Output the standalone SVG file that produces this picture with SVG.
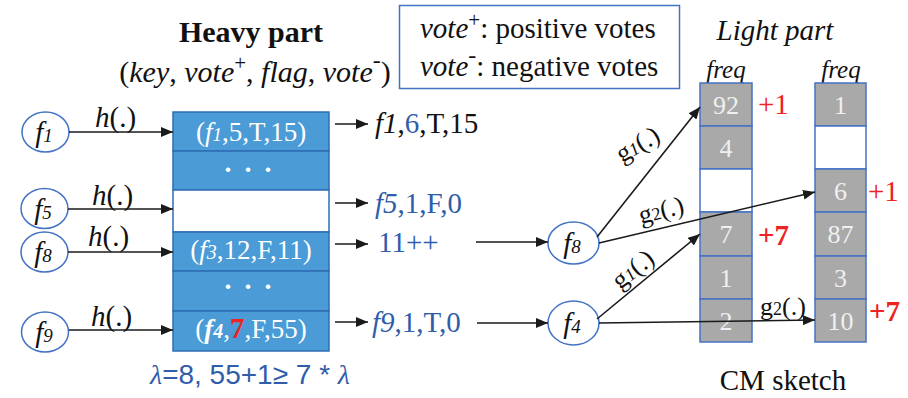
<svg xmlns="http://www.w3.org/2000/svg" width="908" height="398" viewBox="0 0 908 398" font-family="'Liberation Serif', 'Times New Roman', Times, 'DejaVu Serif', 'Noto Serif', serif">
<defs>
<marker id="ah" viewBox="0 0 12 10" refX="12" refY="5" markerWidth="12" markerHeight="10" markerUnits="userSpaceOnUse" orient="auto">
<path d="M0,0 L12,5 L0,10 Z" fill="#1a1a1a"/>
</marker>
<style>
.i{font-style:italic;}
.b{font-weight:bold;}
.blue{fill:#2F5DAA;}
.red{fill:#EE2222;}
.wt{fill:#FFFFFF;}
.ct{fill:#F0F0F0;font-size:26px;}
.ell{fill:#FFFFFF;stroke:#4472C4;stroke-width:1.5;}
.hrow{fill:#4B9BD7;stroke:#2E6DB4;stroke-width:1.5;}
.hwhite{fill:#FFFFFF;stroke:#2E6DB4;stroke-width:1.5;}
.gc{fill:#A9A9A9;stroke:#4472C4;stroke-width:1.5;}
.wc{fill:#FFFFFF;stroke:#4472C4;stroke-width:1.5;}
.con{stroke:#1a1a1a;stroke-width:1.6;fill:none;marker-end:url(#ah);}
.lbl{font-size:29px;fill:#111;}
</style>
</defs>
<rect width="908" height="398" fill="#FFFFFF"/>

<g id="heavy-title">
<text x="251" y="42" text-anchor="middle" class="b" font-size="30" fill="#111">Heavy part</text>
<text x="255" y="82" text-anchor="middle" font-size="30" fill="#111">(<tspan class="i">key</tspan>, <tspan class="i">vote</tspan><tspan font-size="21" dy="-12">+</tspan><tspan dy="12">, </tspan><tspan class="i">flag</tspan>, <tspan class="i">vote</tspan><tspan font-size="24" dy="-14">-</tspan><tspan dy="14">)</tspan></text>
</g>

<g id="legend">
<rect x="399.5" y="5.5" width="280" height="83" fill="#FFFFFF" stroke="#4472C4" stroke-width="1.5"/>
<text x="420" y="38" font-size="29" fill="#111"><tspan class="i">vote</tspan><tspan font-size="21" dy="-11">+</tspan><tspan dy="11">: positive votes</tspan></text>
<text x="420" y="76" font-size="29" fill="#111"><tspan class="i">vote</tspan><tspan font-size="24" dy="-13">-</tspan><tspan dy="13">: negative votes</tspan></text>
</g>

<g id="light-title">
<text x="775" y="40" text-anchor="middle" class="i" font-size="29" fill="#111">Light part</text>
<text x="726" y="78" text-anchor="middle" class="i" font-size="25" fill="#111">freq</text>
<text x="841" y="78" text-anchor="middle" class="i" font-size="25" fill="#111">freq</text>
</g>

<g id="node-f1">
<ellipse class="ell" cx="45.5" cy="132" rx="23.5" ry="20"/>
<text x="44" y="142" text-anchor="middle" class="i" font-size="29" fill="#111">f<tspan font-size="19">1</tspan></text>
</g>
<g id="node-f5">
<ellipse class="ell" cx="44.5" cy="208.5" rx="23.5" ry="20"/>
<text x="43" y="219" text-anchor="middle" class="i" font-size="29" fill="#111">f<tspan font-size="19">5</tspan></text>
</g>
<g id="node-f8">
<ellipse class="ell" cx="44.5" cy="252" rx="23.5" ry="20"/>
<text x="43" y="262" text-anchor="middle" class="i" font-size="29" fill="#111">f<tspan font-size="19">8</tspan></text>
</g>
<g id="node-f9">
<ellipse class="ell" cx="45" cy="332" rx="23.5" ry="20"/>
<text x="44" y="342" text-anchor="middle" class="i" font-size="29" fill="#111">f<tspan font-size="19">9</tspan></text>
</g>

<g id="heavy-table">
<rect class="hrow" x="173" y="112" width="156" height="39"/>
<rect class="hrow" x="173" y="151" width="156" height="39"/>
<rect class="hwhite" x="173" y="190" width="156" height="42"/>
<rect class="hrow" x="173" y="232" width="156" height="39"/>
<rect class="hrow" x="173" y="271" width="156" height="40"/>
<rect class="hrow" x="173" y="311" width="156" height="40"/>
<text x="251" y="141" text-anchor="middle" font-size="27" class="wt">(<tspan class="i">f</tspan><tspan class="i" font-size="19">1</tspan>,5,T,15)</text>
<text x="228 248 268" y="172" text-anchor="middle" font-size="28" class="wt b">...</text>
<text x="251" y="259" text-anchor="middle" font-size="27" class="wt">(<tspan class="i">f</tspan><tspan class="i" font-size="20">3</tspan>,12,F,11)</text>
<text x="228 248 268" y="289" text-anchor="middle" font-size="28" class="wt b">...</text>
<text x="251" y="338" text-anchor="middle" font-size="27" class="wt">(<tspan class="i b">f</tspan><tspan class="i b" font-size="20">4</tspan>,<tspan class="b" fill="#EE2222" font-size="29">7</tspan>,F,55)</text>
<text x="250" y="384" text-anchor="middle" font-family="'Liberation Sans', Arial, sans-serif" font-size="28" class="blue"><tspan font-family="'Liberation Serif', 'DejaVu Serif', serif" class="i">λ</tspan>=8, 55+1≥  7 * <tspan font-family="'Liberation Serif', 'DejaVu Serif', serif" class="i">λ</tspan></text>
</g>

<g id="out-f1"><text x="375" y="133" font-size="29" fill="#111"><tspan class="i">f</tspan><tspan class="i">1</tspan>,<tspan class="blue">6</tspan>,T,15</text></g>
<g id="out-f5"><text x="375" y="213" font-size="29" class="blue"><tspan class="i">f</tspan><tspan class="i">5</tspan>,1,F,0</text></g>
<g id="out-11"><text x="378" y="252" font-size="29" class="blue">11++</text></g>
<g id="out-f9"><text x="372" y="332" font-size="29" class="blue"><tspan class="i">f</tspan><tspan class="i">9</tspan>,1,T,0</text></g>

<g id="node-f8b">
<ellipse class="ell" cx="573.5" cy="243" rx="25.5" ry="21"/>
<text x="572" y="253" text-anchor="middle" class="i" font-size="29" fill="#111">f<tspan font-size="19">8</tspan></text>
</g>
<g id="node-f4">
<ellipse class="ell" cx="573.5" cy="323" rx="25.5" ry="22"/>
<text x="572" y="333" text-anchor="middle" class="i" font-size="29" fill="#111">f<tspan font-size="19">4</tspan></text>
</g>

<g id="cm-col1">
<rect class="gc" x="700" y="83" width="52" height="43"/>
<rect class="gc" x="700" y="126" width="52" height="43"/>
<rect class="wc" x="700" y="169" width="52" height="43"/>
<rect class="gc" x="700" y="212" width="52" height="44"/>
<rect class="gc" x="700" y="256" width="52" height="43"/>
<rect class="gc" x="700" y="299" width="52" height="43"/>
<text x="726" y="114" text-anchor="middle" class="ct">92</text>
<text x="726" y="157" text-anchor="middle" class="ct">4</text>
<text x="726" y="243" text-anchor="middle" class="ct">7</text>
<text x="726" y="287" text-anchor="middle" class="ct">1</text>
<text x="726" y="330" text-anchor="middle" class="ct">2</text>
<text x="758" y="114" font-size="29" class="red">+1</text>
<text x="758" y="245" font-size="29" class="red b">+7</text>
</g>
<g id="cm-col2">
<rect class="gc" x="815" y="83" width="51" height="43"/>
<rect class="wc" x="815" y="126" width="51" height="43"/>
<rect class="gc" x="815" y="169" width="51" height="43"/>
<rect class="gc" x="815" y="212" width="51" height="44"/>
<rect class="gc" x="815" y="256" width="51" height="43"/>
<rect class="gc" x="815" y="299" width="51" height="43"/>
<text x="840.5" y="114" text-anchor="middle" class="ct">1</text>
<text x="840.5" y="200" text-anchor="middle" class="ct">6</text>
<text x="840.5" y="243" text-anchor="middle" class="ct">87</text>
<text x="840.5" y="287" text-anchor="middle" class="ct">3</text>
<text x="840.5" y="330" text-anchor="middle" class="ct">10</text>
<text x="868" y="201" font-size="29" class="red">+1</text>
<text x="869" y="321" font-size="29" class="red b">+7</text>
</g>
<g id="cm-title">
<text x="783" y="390" text-anchor="middle" font-size="29" fill="#111">CM sketch</text>
</g>

<g id="connectors">
<line class="con" x1="69" y1="132" x2="173" y2="132"/>
<line class="con" x1="68" y1="209" x2="173" y2="209"/>
<line class="con" x1="68" y1="252" x2="173" y2="252"/>
<line class="con" x1="69" y1="330" x2="173" y2="330"/>
<line class="con" x1="335" y1="124" x2="368" y2="124"/>
<line class="con" x1="335" y1="203" x2="368" y2="203"/>
<line class="con" x1="335" y1="244" x2="368" y2="244"/>
<line class="con" x1="335" y1="322" x2="368" y2="322"/>
<line class="con" x1="476" y1="242" x2="548" y2="242"/>
<line class="con" x1="477" y1="323" x2="548" y2="323"/>
<line class="con" x1="597" y1="237" x2="700" y2="107"/>
<line class="con" x1="599" y1="243" x2="815" y2="192"/>
<line class="con" x1="597" y1="319" x2="700" y2="234"/>
<line class="con" x1="599" y1="323" x2="815" y2="320"/>
<text x="95" y="127" class="lbl"><tspan class="i">h</tspan>(.)</text>
<text x="92" y="205" class="lbl"><tspan class="i">h</tspan>(.)</text>
<text x="88" y="246" class="lbl"><tspan class="i">h</tspan>(.)</text>
<text x="91" y="326" class="lbl"><tspan class="i">h</tspan>(.)</text>
<text transform="translate(622,163) rotate(-30)" font-size="26" fill="#111">g<tspan class="i" font-size="18">1</tspan>(.)</text>
<text transform="translate(641,224) rotate(-14)" font-size="26" fill="#111">g<tspan font-size="18">2</tspan>(.)</text>
<text transform="translate(620,290) rotate(-38)" font-size="26" fill="#111">g<tspan class="i" font-size="18">1</tspan>(.)</text>
<text x="760" y="315" font-size="26" fill="#111">g<tspan font-size="18">2</tspan>(.)</text>
</g>
</svg>
